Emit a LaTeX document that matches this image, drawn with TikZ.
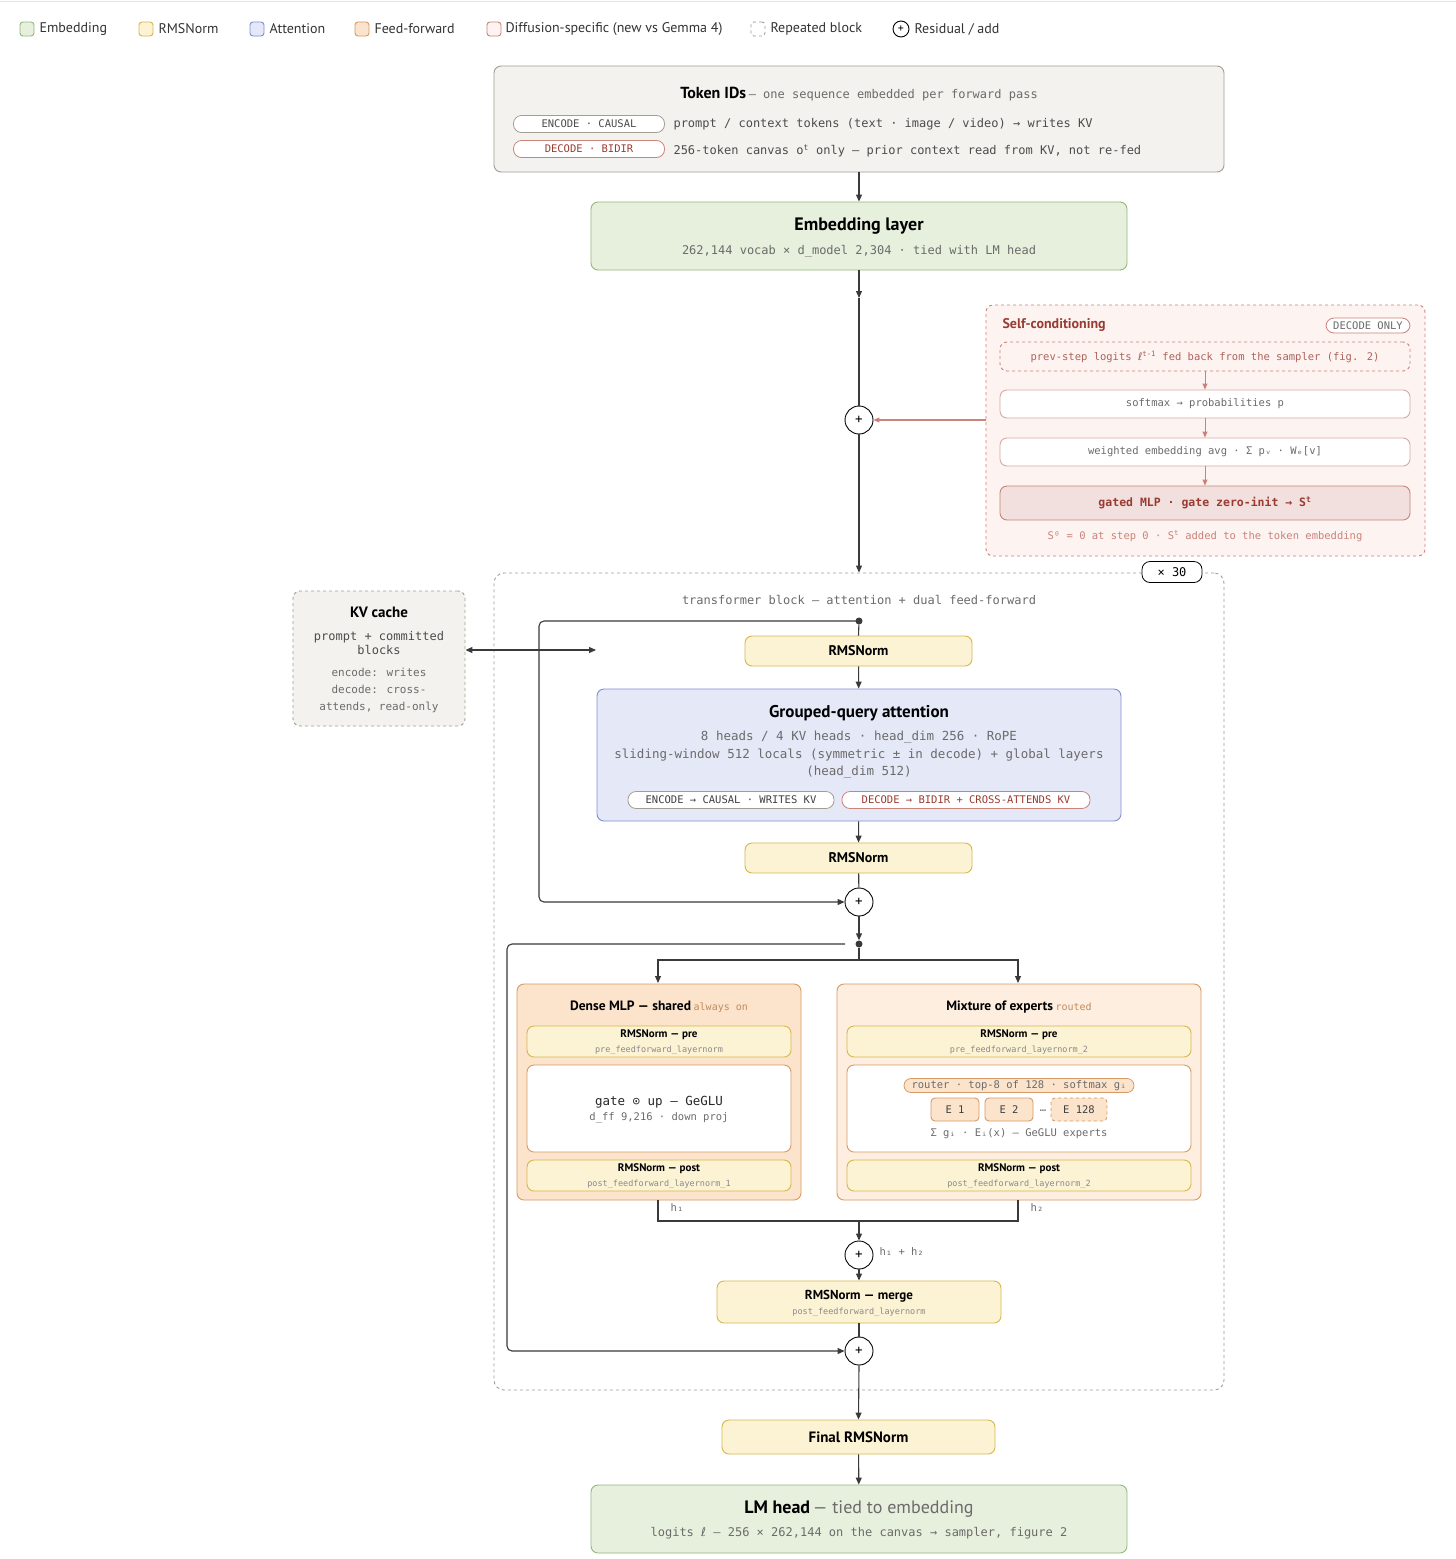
\documentclass[tikz,border=0pt]{standalone}
\usepackage{fontspec}
\setmainfont{PT Sans}
\newfontfamily\mono{DejaVu Sans Mono}
\newfontfamily\dvs{DejaVu Sans}
\usetikzlibrary{arrows.meta,positioning}
\definecolor{embF}{HTML}{E7F0DD}\definecolor{embD}{HTML}{93B87C}
\definecolor{rmsF}{HTML}{FBF3D4}\definecolor{rmsD}{HTML}{D6B84C}
\definecolor{attF}{HTML}{E5E9F7}\definecolor{attD}{HTML}{7F8ED0}
\definecolor{ffF}{HTML}{FBE3CC}\definecolor{ffD}{HTML}{D69A66}
\definecolor{difF}{HTML}{FDF3F1}\definecolor{difD}{HTML}{C9837A}\definecolor{difT}{HTML}{9A3B32}
\definecolor{gryF}{HTML}{F4F2EE}\definecolor{gryD}{HTML}{A39D94}\definecolor{txtG}{HTML}{6B6B6B}
\definecolor{lineC}{HTML}{3A3A3A}
\tikzset{
 bx/.style={draw, rounded corners=7, line width=0.9pt, inner sep=0pt},
 rms/.style={bx, fill=rmsF, draw=rmsD},
 pill/.style={draw, rounded corners=8, fill=white, line width=0.8pt, inner sep=0pt},
 monot/.style={font=\mono\fontsize{12}{14}\selectfont, text=txtG},
 smono/.style={font=\mono\fontsize{10.5}{12}\selectfont, text=txtG},
 ttl/.style={font=\fontsize{18}{21}\selectfont\bfseries},
 plusn/.style={circle, draw=black, fill=white, line width=0.9pt, minimum size=28pt, inner sep=0pt, font=\fontsize{15}{15}\selectfont},
 ar/.style={-{Triangle[length=7pt,width=6pt]}, draw=lineC, line width=1.1pt},
 ln/.style={draw=lineC, line width=1.1pt},
 rar/.style={-{Triangle[length=6pt,width=5pt]}, draw=difD, line width=1pt},
 leg/.style={draw, rounded corners=3, line width=0.9pt, minimum size=14pt, inner sep=0pt},
 legt/.style={anchor=west, font=\fontsize{14}{16}\selectfont, text=black!80},
 dotn/.style={circle, fill=lineC, inner sep=0pt, minimum size=7pt},
 tinym/.style={font=\mono\fontsize{8.5}{10}\selectfont, text=txtG!80},
}
\begin{document}
\begin{tikzpicture}[x=1pt,y=-1pt]
\useasboundingbox (0,0) rectangle (1456,1559);
\fill[white] (0,0) rectangle (1456,1559);
\draw[black!10] (0,1) -- (1456,1);
% legend
\node[leg, fill=embF, draw=embD] (l1) at (27,29) {}; \node[legt] at (36,29) {Embedding};
\node[leg, fill=rmsF, draw=rmsD] (l2) at (146,29) {}; \node[legt] at (155,29) {RMSNorm};
\node[leg, fill=attF, draw=attD] (l3) at (257,29) {}; \node[legt] at (266,29) {Attention};
\node[leg, fill=ffF, draw=ffD] (l4) at (362,29) {}; \node[legt] at (371,29) {Feed-forward};
\node[leg, fill=difF, draw=difD] (l5) at (494,29) {}; \node[legt] at (502,29) {Diffusion-specific (new vs Gemma 4)};
\node[leg, draw=gryD, dashed] (l6) at (758,29) {}; \node[legt] at (767,29) {Repeated block};
\node[circle, draw=black, line width=0.9pt, minimum size=16pt, inner sep=0pt, font=\fontsize{12}{12}\selectfont] (l7) at (901,29) {+}; \node[legt] at (911,29) {Residual / add};

% Token IDs
\node[bx, fill=gryF, draw=gryD, minimum width=730pt, minimum height=106pt] (tok) at (859,119) {};
\node[anchor=base] at (859,98) {{\fontsize{16}{18}\selectfont\bfseries Token IDs} {\mono\fontsize{12}{14}\selectfont\color{txtG}— one sequence embedded per forward pass}};
\node[pill, draw=gryD, minimum width=151pt, minimum height=17pt, smono, text=black!70] (pe) at (589,124) {ENCODE · CAUSAL};
\node[pill, draw=difD, minimum width=151pt, minimum height=17pt, smono, text=difT] (pd) at (589,149) {DECODE · BIDIR};
\node[monot, anchor=west, text=black!70] at (670,124) {prompt / context tokens (text · image / video) → writes KV};
\node[monot, anchor=west, text=black!70] at (670,151) {256-token canvas o\textsuperscript{t} only — prior context read from KV, not re-fed};

% Embedding
\node[bx, fill=embF, draw=embD, minimum width=536pt, minimum height=68pt] (emb) at (859,236) {};
\node[ttl] at (859,226) {Embedding layer};
\node[monot] at (859,251) {262,144 vocab × d\_model 2,304 · tied with LM head};
\draw[ar] (tok.south -| 859,0) -- (emb.north);

\node[plusn] (p0) at (859,420) {+};
\coordinate (e1) at (859,298);
\draw[ar] (emb.south) -- (e1);
\draw[ln] (e1) -- (p0.north);

% self-conditioning
\node[bx, dashed, fill=difF, draw=difD, minimum width=439pt, minimum height=251pt] (sc) at (1205.5,430.5) {};
\node[anchor=west, text=difT, font=\fontsize{14}{16}\selectfont\bfseries] at (999,325) {Self-conditioning};
\node[pill, draw=difD, minimum width=84pt, minimum height=15pt, smono, text=txtG] at (1368,325.5) {DECODE ONLY};
\node[bx, dashed, fill=difF, draw=difD, minimum width=410pt, minimum height=29pt, smono, text=difT!80] (s1) at (1205,356.5) {prev-step logits {\dvs ℓ}\textsuperscript{t-1} fed back from the sampler (fig. 2)};
\node[bx, fill=white, draw=difD!70, minimum width=410pt, minimum height=28pt, smono] (s2) at (1205,404) {softmax → probabilities p};
\node[bx, fill=white, draw=difD!70, minimum width=410pt, minimum height=28pt, smono] (s3) at (1205,452) {weighted embedding avg · Σ pᵥ · Wₑ[v]};
\node[bx, fill=difD!25, draw=difD, minimum width=410pt, minimum height=34pt, font=\mono\fontsize{11.5}{13}\selectfont\bfseries, text=difT] (s4) at (1205,503) {gated MLP · gate zero-init → S\textsuperscript{t}};
\node[smono, text=difD] at (1205,536) {S⁰ = 0 at step 0 · S\textsuperscript{t} added to the token embedding};
\draw[rar] (s1) -- (s2); \draw[rar] (s2) -- (s3); \draw[rar] (s3) -- (s4);
\draw[rar, line width=1.1pt] (sc.west |- p0) -- (p0.east);

% repeated block
\node[bx, dashed, draw=gryD, minimum width=730pt, minimum height=817pt, rounded corners=10] (rep) at (859,981.5) {};
\node[pill, draw=black, minimum width=60pt, minimum height=21pt, font=\mono\fontsize{12}{14}\selectfont] at (1172,572) {× 30};
\draw[ar] (p0.south) -- (rep.north -| p0);
\node[monot] at (859,600) {transformer block — attention + dual feed-forward};

% KV cache
\node[bx, dashed, fill=gryF, draw=gryD, minimum width=172pt, minimum height=135pt] (kv) at (379,658.5) {};
\node[font=\fontsize{15}{17}\selectfont\bfseries] at (379,612) {KV cache};
\node[monot, text=black!70, align=center] at (379,643.5) {prompt + committed\\blocks};
\node[smono, font=\mono\fontsize{11}{17}\selectfont, align=center] at (379,690) {encode: writes\\decode: cross-\\attends, read-only};
\coordinate (kvr) at (596,650);
\draw[ln, {Triangle[length=7pt,width=6pt]}-{Triangle[length=7pt,width=6pt]}] (kv.east |- kvr) -- (kvr);

% attention path
\node[dotn] (d1) at (859,621) {};
\node[rms, minimum width=227pt, minimum height=30pt, font=\fontsize{14}{16}\selectfont\bfseries] (r1) at (858.5,651) {RMSNorm};
\node[bx, fill=attF, draw=attD, minimum width=524pt, minimum height=132pt] (att) at (859,755) {};
\node[font=\fontsize{17}{20}\selectfont\bfseries] at (859,713) {Grouped-query attention};
\node[monot, align=center, font=\mono\fontsize{12.5}{17.5}\selectfont] at (859,755) {8 heads / 4 KV heads · head\_dim 256 · RoPE\\sliding-window 512 locals (symmetric ± in decode) + global layers\\(head\_dim 512)};
\node[pill, draw=gryD, minimum width=206pt, minimum height=17pt, smono, text=black!75] at (731,800) {ENCODE → CAUSAL · WRITES KV};
\node[pill, draw=difD, minimum width=248pt, minimum height=17pt, smono, text=difT] at (966,800) {DECODE → BIDIR + CROSS-ATTENDS KV};
\node[rms, minimum width=227pt, minimum height=30pt, font=\fontsize{14}{16}\selectfont\bfseries] (r2) at (858.5,858) {RMSNorm};
\node[plusn] (p1) at (859,902) {+};
\draw[ln] (d1) -- (r1.north);
\draw[ar] (r1) -- (att);
\draw[ar] (att) -- (r2);
\draw[ln] (r2) -- (p1);
\draw[ar] (d1.center) -- (544,621) to[out=180,in=90] (539,626) -- (539,897) to[out=-90,in=180] (544,902) -- (p1.west);

% FFN
\node[dotn] (d2) at (859,944) {};
\draw[ar] (p1.south) -- (d2.north);
\coordinate (sp) at (859,960);
\draw[ln] (d2) -- (sp);
\node[bx, fill=ffF, draw=ffD, minimum width=284pt, minimum height=216pt] (mlp) at (659,1092) {};
\node[bx, fill=ffF!60, draw=ffD, minimum width=364pt, minimum height=216pt] (moe) at (1019,1092) {};
\draw[ar] (sp) -- (658,960) -- (658,983);
\draw[ar] (sp) -- (1018,960) -- (1018,983);

\node at (659,1007) {{\fontsize{13.5}{16}\selectfont\bfseries Dense MLP — shared} {\mono\fontsize{10}{12}\selectfont\color{ffD!90!black} always on}};
\node at (1019,1007) {{\fontsize{13.5}{16}\selectfont\bfseries Mixture of experts} {\mono\fontsize{10}{12}\selectfont\color{ffD!90!black} routed}};
\foreach \n/\cx/\w in {a/659/264, b/1019/344} {
 \node[rms, minimum width=\w pt, minimum height=31pt] (pre\n) at (\cx,1041.5) {};
 \node[font=\fontsize{11}{13}\selectfont\bfseries] at (\cx,1035) {RMSNorm — pre};
 \node[bx, fill=white, draw=ffD, minimum width=\w pt, minimum height=87pt] (mid\n) at (\cx,1108.5) {};
 \node[rms, minimum width=\w pt, minimum height=31pt] (post\n) at (\cx,1175.5) {};
 \node[font=\fontsize{11}{13}\selectfont\bfseries] at (\cx,1169) {RMSNorm — post};
}
\node[tinym] at (659,1050) {pre\_feedforward\_layernorm};
\node[tinym] at (1019,1050) {pre\_feedforward\_layernorm\_2};
\node[tinym] at (659,1184) {post\_feedforward\_layernorm\_1};
\node[tinym] at (1019,1184) {post\_feedforward\_layernorm\_2};
\node[font=\mono\fontsize{12.5}{14}\selectfont, text=black!85] at (659,1102) {gate ⊙ up — GeGLU};
\node[smono] at (659,1118) {d\_ff 9,216 · down proj};
\node[pill, draw=ffD, fill=ffF, minimum width=230pt, minimum height=14pt, smono, rounded corners=7] at (1019,1085.5) {router · top-8 of 128 · softmax gᵢ};
\node[bx, fill=ffF, draw=ffD, minimum width=48pt, minimum height=23pt, smono, text=black!75, rounded corners=4] at (955,1109.5) {E 1};
\node[bx, fill=ffF, draw=ffD, minimum width=48pt, minimum height=23pt, smono, text=black!75, rounded corners=4] at (1009,1109.5) {E 2};
\node[smono] at (1043,1111) {…};
\node[bx, dashed, fill=ffF, draw=ffD, minimum width=56pt, minimum height=23pt, smono, text=black!75, rounded corners=4] at (1079,1109.5) {E 128};
\node[smono] at (1019,1134) {Σ gᵢ · Eᵢ(x) — GeGLU experts};

% merge
\node[plusn] (p2) at (859,1255) {+};
\draw[ln] (mlp.south -| 658,0) -- (658,1221) -- (1018,1221) -- (moe.south -| 1018,0);
\coordinate (mg) at (859,1221);
\draw[ar] (mg) -- (p2.north);
\node[fill=white, inner sep=2pt, smono] at (677,1207) {h₁};
\node[fill=white, inner sep=2pt, smono] at (1037,1207) {h₂};
\node[smono, anchor=west] at (876,1251) {h₁ + h₂};
\node[rms, minimum width=284pt, minimum height=42pt] (rm) at (859,1302) {};
\node[font=\fontsize{13}{15}\selectfont\bfseries] at (859,1296) {RMSNorm — merge};
\node[tinym] at (859,1312) {post\_feedforward\_layernorm};
\draw[ar] (p2) -- (rm);
\node[plusn] (p3) at (859,1351) {+};
\draw[ln] (rm) -- (p3);
\draw[ar] (845,944) -- (512,944) to[out=180,in=90] (507,949) -- (507,1346) to[out=-90,in=180] (512,1351) -- (p3.west);

% final
\node[rms, minimum width=273pt, minimum height=34pt, font=\fontsize{15}{17}\selectfont\bfseries] (fr) at (858.5,1437) {Final RMSNorm};
\draw[ar] (p3.south) -- (fr.north);
\node[bx, fill=embF, draw=embD, minimum width=536pt, minimum height=68pt] (lm) at (859,1519) {};
\node at (859,1509) {{\fontsize{18}{21}\selectfont\bfseries LM head} {\fontsize{18}{21}\selectfont\color{txtG}— tied to embedding}};
\node[monot] at (859,1533) {logits {\dvs ℓ} — 256 × 262,144 on the canvas → sampler, figure 2};
\draw[ar] (fr) -- (lm);
\end{tikzpicture}
\end{document}
